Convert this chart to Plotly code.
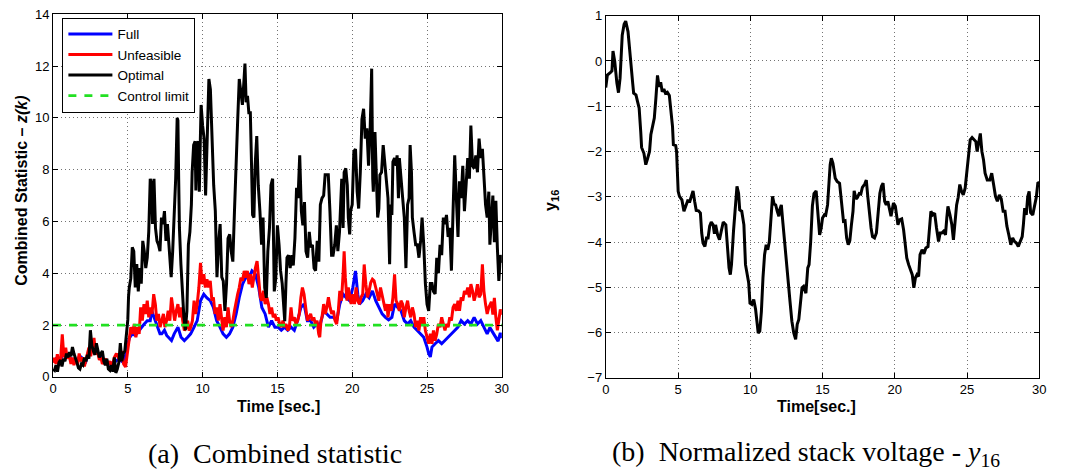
import plotly.graph_objects as go

# ---------------- data: left panel (combined statistic z(k)) ----------------
t_opt = [0.0,0.1,0.2,0.3,0.4,0.5,0.6,0.7,0.8,0.9,1.0,1.1,1.2,1.3,1.4,1.5,1.6,1.7,1.8,1.9,
         2.0,2.1,2.2,2.3,2.4,2.5,2.6,2.7,2.8,2.9,3.0,3.1,3.2,3.3,3.4,3.5,3.6,3.7,3.8,3.9,
         4.0,4.1,4.2,4.3,4.4,4.5,4.6,4.7,4.8,4.9,5.0,5.05,5.1,5.2,5.3,5.4,5.5,5.6,5.7,5.8,
         5.9,6.0,6.1,6.2,6.3,6.4,6.5,6.6,6.65,6.75,6.85,6.95,7.05,7.15,7.25,7.35,7.45,7.55,
         7.65,7.75,7.9,8.0,8.1,8.2,8.3,8.35,8.4,8.45,8.55,8.65,8.75,8.85,8.95,9.05,9.15,9.25,
         9.3,9.4,9.5,9.55,9.6,9.7,9.78,9.85,9.9,10.0,10.1,10.2,10.3,10.42,10.52,10.64,10.74,
         10.85,10.96,11.06,11.17,11.28,11.38,11.49,11.6,11.7,11.81,11.91,12.02,12.13,12.23,
         12.34,12.45,12.55,12.66,12.77,12.83,12.91,13.0,13.09,13.19,13.26,13.34,13.43,13.51,
         13.62,13.72,13.83,13.94,14.04,14.15,14.26,14.36,14.47,14.57,14.68,14.79,14.89,15.0,
         15.11,15.21,15.32,15.43,15.49,15.57,15.64,15.74,15.85,15.96,16.06,16.17,16.28,16.38,
         16.49,16.6,16.7,16.81,16.91,17.02,17.13,17.23,17.34,17.45,17.55,17.66,17.77,17.87,
         17.98,18.09,18.19,18.3,18.4,18.51,18.62,18.72,18.83,18.94,19.04,19.15,19.24,19.3,
         19.39,19.46,19.57,19.67,19.74,19.83,19.89,20.0,20.11,20.22,20.33,20.43,20.54,20.65,
         20.76,20.87,20.98,21.09,21.2,21.3,21.37,21.41,21.52,21.63,21.7,21.78,21.85,21.96,
         22.07,22.17,22.28,22.39,22.5,22.57,22.65,22.72,22.83,22.93,23.0,23.09,23.15,23.26,
         23.37,23.48,23.59,23.7,23.8,23.87,23.96,24.02,24.13,24.24,24.35,24.46,24.57,24.67,
         24.78,24.89,25.0,25.11,25.22,25.33,25.43,25.54,25.65,25.76,25.87,25.98,26.09,26.2,
         26.3,26.41,26.52,26.63,26.74,26.85,26.96,27.07,27.17,27.28,27.39,27.5,27.61,27.72,
         27.83,27.93,28.04,28.15,28.26,28.37,28.48,28.59,28.7,28.8,28.91,29.02,29.13,29.2,
         29.3,29.4,29.5,29.6,29.7,29.8,29.9,30.0]
z_opt = [0.3,0.25,0.45,0.2,0.55,0.65,0.4,0.7,0.6,0.9,0.75,0.95,0.8,1.15,0.9,0.75,0.55,0.35,0.3,0.5,
         0.45,0.75,0.6,0.85,0.7,1.8,1.2,1.0,0.85,1.3,1.0,0.75,0.9,1.0,0.6,0.45,0.7,0.3,0.25,0.45,
         0.2,0.75,0.15,0.3,0.55,1.3,0.6,0.9,1.0,1.6,2.2,3.1,3.45,3.8,5.0,4.85,3.45,4.35,3.3,4.2,
         3.6,5.25,4.85,4.2,4.6,5.6,7.65,7.4,5.9,7.65,5.75,5.25,5.1,4.85,6.15,5.9,6.4,5.25,
         5.9,5.1,3.85,4.85,6.15,7.65,10.0,9.9,7.65,5.75,4.35,3.2,2.3,1.8,2.55,5.1,5.6,6.65,
         7.9,8.95,9.1,7.2,8.9,9.1,7.15,9.2,10.5,9.7,9.2,7.0,8.7,11.5,11.1,8.95,7.4,
         6.4,3.85,5.1,5.9,3.85,3.7,2.55,3.6,5.35,5.5,4.85,4.45,6.4,8.3,
         9.85,11.5,11.0,10.5,11.5,12.1,10.6,10.85,10.2,10.2,8.45,6.25,6.15,8.15,
         9.3,7.4,6.4,5.1,6.15,3.45,3.05,4.85,5.75,7.4,7.65,3.3,3.8,5.85,
         5.1,4.1,3.6,2.55,2.15,3.6,4.6,4.7,4.2,4.7,4.3,5.35,7.3,6.9,
         8.55,6.4,5.85,6.75,4.85,4.6,5.6,5.0,5.1,4.2,4.1,5.25,4.45,6.65,
         6.9,7.0,7.8,7.8,7.8,6.4,4.7,4.7,5.1,5.85,4.85,5.6,6.65,7.65,
         5.75,7.9,8.05,7.4,6.15,5.5,6.4,6.65,8.7,8.8,7.15,6.5,7.9,9.95,
         10.35,9.2,9.6,8.15,9.6,11.9,7.65,7.15,9.45,7.65,6.15,6.5,7.8,7.9,
         8.95,8.3,7.65,6.9,4.35,6.65,6.25,8.3,8.45,8.15,8.55,6.9,8.45,7.65,
         6.65,6.15,4.2,6.65,6.9,8.95,7.9,6.15,5.6,5.1,5.1,4.6,5.25,6.15,
         5.1,3.6,2.8,2.55,3.6,3.6,3.3,3.2,4.6,4.0,5.1,4.7,6.15,5.9,
         6.25,5.4,5.75,4.1,6.4,8.55,6.9,5.4,7.55,6.9,8.15,6.4,7.4,8.45,
         7.65,9.7,8.15,8.05,8.55,7.9,9.2,8.45,8.8,7.55,6.65,6.15,7.15,5.1,
         6.3,7.0,5.2,6.8,5.0,3.7,4.7,4.4]

t_unf = [0.0,0.07,0.2,0.29,0.4,0.5,0.62,0.73,0.85,0.95,1.07,1.2,1.3,1.4,1.52,1.65,1.75,1.85,1.97,
         2.1,2.2,2.3,2.4,2.52,2.74,2.85,2.96,3.1,3.2,3.3,3.4,3.55,3.65,3.8,3.95,4.1,4.24,4.46,
         4.6,4.72,4.85,5.0,5.1,5.2,5.32,5.43,5.54,5.65,5.76,5.86,5.97,6.08,6.19,6.3,6.4,6.51,
         6.62,6.73,6.84,6.94,7.05,7.16,7.27,7.38,7.48,7.59,7.7,7.81,7.92,8.02,8.13,8.24,8.35,
         8.46,8.56,8.67,8.78,8.89,9.0,9.1,9.21,9.32,9.43,9.53,9.64,9.75,9.86,9.97,10.08,10.18,
         10.29,10.4,10.51,10.62,10.72,10.83,10.94,11.05,11.16,11.26,11.37,11.48,11.59,11.7,
         11.8,11.91,12.02,12.13,12.24,12.34,12.45,12.56,12.67,12.78,12.88,12.99,13.1,13.21,
         13.32,13.42,13.53,13.64,13.75,13.86,13.96,14.07,14.18,14.29,14.4,14.5,14.61,14.72,
         14.83,14.93,15.04,15.15,15.26,15.37,15.48,15.58,15.69,15.8,15.91,16.0,16.13,16.24,
         16.35,16.46,16.57,16.67,16.78,16.89,17.0,17.11,17.22,17.33,17.43,17.54,17.65,17.76,
         17.83,17.91,17.98,18.09,18.2,18.3,18.41,18.52,18.63,18.74,18.85,18.96,19.07,19.17,
         19.28,19.39,19.46,19.54,19.65,19.74,19.83,19.93,20.04,20.15,20.26,20.37,20.48,20.59,
         20.7,20.8,20.91,21.02,21.13,21.24,21.35,21.46,21.57,21.67,21.78,21.89,22.0,22.11,
         22.22,22.33,22.39,22.5,22.61,22.72,22.83,22.93,23.04,23.15,23.26,23.37,23.48,23.59,
         23.7,23.8,23.91,24.02,24.13,24.24,24.35,24.46,24.57,24.67,24.78,24.89,25.0,25.11,
         25.22,25.33,25.43,25.54,25.65,25.76,25.87,25.98,26.09,26.2,26.3,26.41,26.52,26.63,
         26.74,26.85,26.96,27.07,27.17,27.28,27.39,27.5,27.61,27.72,27.83,27.93,28.04,28.15,
         28.26,28.37,28.48,28.59,28.7,28.8,28.91,29.02,29.13,29.3,29.4,29.5,29.6,29.7,29.8,
         29.9,30.0]
z_unf = [0.55,0.74,0.5,0.87,0.45,0.6,1.64,0.75,1.13,0.7,0.87,0.5,0.75,0.45,0.7,0.5,0.9,0.6,0.75,
         0.4,0.65,0.9,1.13,0.8,1.5,0.87,1.0,0.65,0.75,0.5,0.6,0.7,0.45,0.6,0.4,0.75,0.9,0.64,
         1.0,0.5,0.38,1.15,1.53,1.92,1.66,2.04,1.53,1.92,1.66,2.68,2.17,2.81,2.43,2.94,2.3,2.68,
         2.43,3.19,2.81,2.17,2.43,1.92,2.17,2.43,1.92,2.17,2.55,2.17,3.07,2.68,2.17,2.55,2.81,
         2.3,2.68,2.17,1.79,1.92,2.17,1.79,1.92,2.17,2.94,2.43,2.81,3.45,4.4,3.58,3.96,3.45,
         3.77,3.45,3.71,2.94,3.07,2.43,2.68,2.17,2.81,2.3,1.79,2.3,1.92,2.68,
         2.17,1.92,2.17,2.55,2.94,3.19,3.45,3.83,3.71,4.09,3.83,4.09,3.58,3.96,
         3.45,3.83,4.21,4.47,3.71,3.07,2.94,3.32,2.81,3.07,2.81,2.43,2.68,2.3,
         2.43,2.17,2.3,2.04,1.92,2.17,1.92,2.04,1.79,1.92,2.68,2.17,2.3,2.04,
         2.17,2.43,3.07,3.45,3.19,2.68,2.17,2.3,2.43,2.17,2.3,2.04,2.17,1.66,
         1.53,2.17,2.3,2.81,2.43,2.68,3.07,2.68,2.43,2.55,2.17,2.04,2.55,3.32,
         2.94,3.96,4.85,3.83,2.94,3.45,3.07,2.81,3.19,2.81,3.45,2.94,2.81,3.07,
         3.19,4.34,3.58,3.07,3.32,3.64,3.77,3.71,3.45,3.19,2.94,3.45,3.19,2.81,
         2.55,2.81,2.3,2.81,2.55,3.07,3.96,2.94,2.81,2.55,2.94,2.81,2.3,2.68,
         2.94,2.55,2.3,2.68,2.43,1.92,2.17,1.79,2.3,2.04,2.3,1.79,1.53,1.28,
         1.66,1.28,1.79,1.4,1.66,2.04,1.92,2.3,2.04,1.79,2.04,1.92,2.3,2.17,
         2.68,2.81,2.55,2.94,2.55,3.07,2.94,3.32,3.19,3.45,3.07,3.58,3.32,2.94,
         3.19,3.58,3.07,3.19,4.34,3.32,2.81,2.43,2.68,2.9,2.4,3.05,2.3,1.8,2.2,
         2.6,2.4]

t_full = [0.0,0.2,0.4,0.6,0.8,1.0,1.2,1.4,1.6,1.8,2.0,2.2,2.4,2.6,2.8,3.0,3.2,3.4,3.6,3.8,4.0,
          4.2,4.4,4.6,4.8,5.0,5.1,5.3,5.5,5.7,5.9,6.1,6.3,6.5,6.6,6.75,6.95,7.15,7.27,7.45,7.6,
          7.7,7.92,8.1,8.35,8.56,8.78,9.0,9.2,9.43,9.64,9.86,10.08,10.29,10.51,10.72,10.94,
          11.16,11.37,11.59,11.8,12.02,12.24,12.45,12.67,12.88,13.1,13.3,13.53,13.75,13.96,
          14.18,14.4,14.61,14.83,15.04,15.26,15.48,15.69,15.91,16.13,16.35,16.57,16.78,17.0,
          17.22,17.43,17.65,17.87,18.09,18.3,18.52,18.74,18.96,19.17,19.39,19.61,19.83,20.04,
          20.22,20.37,20.48,20.7,20.91,21.13,21.35,21.57,21.78,22.0,22.22,22.43,22.65,22.83,
          23.04,23.26,23.48,23.7,23.91,24.13,24.35,24.57,24.78,25.0,25.11,25.22,25.33,25.54,
          25.76,25.98,26.2,26.41,26.63,26.85,27.07,27.28,27.5,27.72,27.93,28.15,28.37,28.59,
          28.8,29.02,29.2,29.4,29.6,29.75,29.9,30.0]
z_full = [0.6,0.7,0.55,0.8,0.9,0.85,0.7,0.6,0.65,0.8,0.7,0.6,1.0,1.1,1.0,0.9,0.8,0.65,0.6,0.5,0.55,
          0.6,0.7,0.6,0.7,1.2,1.5,1.66,1.6,1.75,1.92,2.04,2.17,2.17,2.55,2.3,1.92,1.66,1.66,1.8,1.6,
          1.53,1.4,1.66,1.92,1.53,1.4,1.53,1.66,1.92,2.17,2.94,3.19,3.05,2.94,2.68,2.17,
          1.92,1.66,1.53,1.66,1.92,2.43,3.07,3.58,3.83,3.83,4.09,3.96,3.45,2.68,
          2.43,1.92,2.17,1.92,1.92,1.8,1.92,1.8,1.92,1.8,2.17,2.68,2.81,2.17,
          2.17,1.92,2.04,2.04,2.55,2.43,2.3,2.3,2.17,2.81,3.19,3.05,2.94,3.45,
          4.09,3.19,2.81,2.94,3.19,3.05,3.32,2.94,2.68,2.43,2.3,2.2,2.3,2.81,
          2.68,2.55,2.17,2.04,2.17,1.92,1.79,1.66,1.53,1.15,0.9,0.77,1.15,1.28,
          1.4,1.28,1.4,1.53,1.66,1.79,1.92,2.17,2.04,2.17,2.04,2.3,2.04,2.17,
          1.92,1.66,1.9,1.7,1.5,1.38,1.7,1.5]

control_limit = 2.0
time_span = [0, 30]

# ---------------- data: right panel (normalized stack voltage y16) ----------------
t_y16 = [0.0,0.11,0.33,0.43,0.5,0.62,0.77,0.88,0.99,1.14,1.27,1.38,1.54,1.71,1.87,1.93,2.09,2.2,
         2.31,2.42,2.48,2.64,2.77,2.9,3.03,3.12,3.25,3.36,3.47,3.58,3.69,3.8,3.91,4.02,4.13,4.26,
         4.4,4.51,4.62,4.68,4.84,4.9,5.01,5.1,5.27,5.41,5.54,5.67,5.82,5.93,6.04,6.15,6.26,6.42,
         6.55,6.64,6.73,6.86,6.97,7.08,7.19,7.3,7.43,7.52,7.6,7.74,7.87,8.0,8.13,8.31,8.42,8.53,
         8.62,8.7,8.84,8.97,9.08,9.19,9.27,9.41,9.56,9.67,9.8,9.89,9.98,10.11,10.24,10.37,10.46,
         10.55,10.66,10.77,10.88,10.99,11.1,11.21,11.32,11.43,11.54,11.65,11.76,11.87,11.98,
         12.04,12.15,12.26,12.42,12.57,12.75,12.88,13.01,13.14,13.25,13.36,13.45,13.58,13.69,
         13.85,13.98,14.07,14.18,14.3,14.41,14.56,14.69,14.8,14.91,15.0,15.13,15.22,15.35,15.44,
         15.53,15.61,15.72,15.88,16.01,16.18,16.34,16.45,16.56,16.67,16.78,16.89,17.0,17.11,
         17.19,17.32,17.41,17.54,17.65,17.76,17.92,18.03,18.14,18.25,18.36,18.46,18.6,18.73,
         18.86,18.97,19.08,19.19,19.3,19.41,19.52,19.61,19.74,19.82,19.91,20.04,20.13,20.22,
         20.33,20.48,20.61,20.72,20.83,20.96,21.1,21.21,21.32,21.43,21.54,21.65,21.75,21.89,
         22.02,22.15,22.3,22.41,22.5,22.63,22.76,22.89,23.03,23.14,23.25,23.38,23.51,23.6,
         23.68,23.82,23.95,24.06,24.17,24.28,24.39,24.5,24.61,24.74,24.87,25.0,25.11,25.22,
         25.35,25.48,25.61,25.7,25.81,25.92,26.03,26.14,26.25,26.4,26.58,26.71,26.84,26.97,
         27.1,27.24,27.37,27.5,27.63,27.76,27.89,28.03,28.16,28.29,28.42,28.55,28.68,28.82,
         28.9,28.99,29.1,29.2,29.3,29.4,29.55,29.7,29.8,29.9,30.0]
y16 = [-0.59,-0.31,-0.25,-0.22,0.22,-0.01,-0.49,-0.70,-0.38,0.57,0.81,0.88,0.65,0.13,-0.51,-0.71,
       -0.75,-0.90,-1.04,-1.56,-1.91,-2.04,-2.29,-2.15,-2.0,-1.63,-1.45,-1.26,-0.82,-0.32,-0.57,
       -0.47,-0.68,-0.62,-0.71,-0.69,-0.76,-1.12,-1.45,-1.85,-1.87,-2.0,-2.88,-2.99,-3.07,-3.32,
       -3.21,-3.09,-3.10,-2.99,-2.87,-3.10,-3.30,-3.31,-3.36,-3.80,-4.02,-4.10,-3.91,-3.91,-3.65,
       -3.56,-3.62,-3.82,-3.62,-3.84,-3.95,-3.75,-3.56,-3.62,-4.06,-4.57,-4.72,-4.50,-3.76,-3.25,
       -2.77,-2.92,-3.29,-3.32,-3.62,-4.50,-4.76,-4.90,-5.35,-5.38,-5.27,-5.49,-5.75,-6.01,-5.97,
       -5.53,-4.79,-4.28,-4.06,-4.17,-3.99,-3.40,-2.99,-3.16,-3.18,-3.32,-3.43,-3.29,-3.18,-3.58,
       -4.21,-4.79,-5.31,-5.75,-6.01,-6.15,-5.82,-5.71,-5.38,-5.01,-4.98,-5.13,-4.57,-4.50,-4.0,
       -3.2,-2.93,-2.87,-3.40,-3.84,-3.69,-3.47,-3.40,-3.41,-3.18,-2.73,-2.29,-2.15,-2.26,-2.59,
       -2.66,-2.70,-3.21,-3.54,-3.53,-3.91,-4.06,-3.97,-3.62,-3.32,-2.87,-3.05,-3.02,-2.93,-2.94,
       -2.79,-2.72,-2.63,-3.02,-3.40,-3.69,-3.88,-3.91,-3.80,-3.32,-2.92,-2.77,-2.70,-3.10,-3.18,
       -3.10,-3.21,-3.43,-3.29,-3.14,-3.21,-3.47,-3.62,-3.51,-3.49,-3.73,-4.06,-4.35,-4.50,-4.61,
       -4.72,-5.01,-4.79,-4.72,-4.76,-4.28,-4.17,-4.26,-4.13,-4.10,-3.62,-3.32,-3.40,-3.36,-3.69,
       -3.99,-3.80,-3.80,-3.76,-3.84,-3.47,-3.21,-3.40,-3.62,-3.95,-3.62,-3.18,-3.01,-2.73,-2.87,
       -2.96,-2.81,-2.44,-2.07,-1.74,-1.69,-1.74,-1.78,-2.0,-1.78,-1.60,-2.0,-2.18,-2.48,-2.63,
       -2.63,-2.48,-2.73,-2.99,-3.10,-2.96,-3.05,-3.32,-3.32,-3.65,-3.84,-4.06,-3.91,-3.99,-4.02,
       -4.10,-3.99,-3.88,-3.62,-3.25,-3.4,-3.0,-2.88,-3.35,-3.4,-3.2,-3.0,-2.7,-2.68]

left_yticks = [0, 2, 4, 6, 8, 10, 12, 14]
right_yticks = [-7, -6, -5, -4, -3, -2, -1, 0, 1]
xticks = [0, 5, 10, 15, 20, 25, 30]

# ---------------- figure ----------------
W, H = 1072, 472
fig = go.Figure()

lw = 3
fig.add_trace(go.Scatter(x=t_full, y=z_full, mode="lines", name="Full",
                         line=dict(color="#0000ff", width=lw), xaxis="x", yaxis="y"))
fig.add_trace(go.Scatter(x=t_unf, y=z_unf, mode="lines", name="Unfeasible",
                         line=dict(color="#ff0000", width=lw), xaxis="x", yaxis="y"))
fig.add_trace(go.Scatter(x=t_opt, y=z_opt, mode="lines", name="Optimal",
                         line=dict(color="#000000", width=lw), xaxis="x", yaxis="y"))
fig.add_trace(go.Scatter(x=time_span, y=[control_limit, control_limit], mode="lines",
                         name="Control limit",
                         line=dict(color="#22e022", width=2.8, dash="8px,8px"),
                         xaxis="x", yaxis="y"))
fig.add_trace(go.Scatter(x=t_y16, y=y16, mode="lines", showlegend=False,
                         line=dict(color="#000000", width=3), xaxis="x2", yaxis="y2"))

tickfont = dict(family="Liberation Sans, Arial, sans-serif", size=13, color="#000")
common_axis = dict(showline=True, linecolor="#000", linewidth=1, mirror="ticks",
                   ticks="inside", ticklen=5, tickcolor="#000", showgrid=True,
                   gridcolor="rgba(0,0,0,0.55)", gridwidth=1, griddash="1px,3px",
                   zeroline=False, tickfont=tickfont)

def px_x(p):
    return p / W

def px_y(p):
    return 1 - p / H

fig.update_layout(
    width=W, height=H,
    margin=dict(l=0, r=0, t=0, b=0),
    paper_bgcolor="white", plot_bgcolor="white",
    xaxis=dict(domain=[px_x(49.5), px_x(503)], range=[0, 30], tickvals=xticks,
               anchor="y", **common_axis),
    yaxis=dict(domain=[px_y(382), px_y(7.5)], range=[0, 14], tickvals=left_yticks,
               anchor="x", **common_axis),
    xaxis2=dict(domain=[px_x(608), px_x(1046)], range=[0, 30], tickvals=xticks,
                anchor="y2", **common_axis),
    yaxis2=dict(domain=[px_y(383), px_y(9)], range=[-7, 1], tickvals=right_yticks,
                anchor="x2", **common_axis),
    legend=dict(x=px_x(59), y=px_y(11), xanchor="left", yanchor="top",
                bgcolor="white", bordercolor="#000", borderwidth=1,
                font=dict(family="Liberation Sans, Arial, sans-serif", size=13.5, color="#000"),
                tracegroupgap=0, itemwidth=44),
    showlegend=True,
)

title_font = dict(family="Liberation Sans, Arial, sans-serif", size=16, color="#000")
cap_font = dict(family="Liberation Serif, Times New Roman, serif", size=28, color="#000")
annotations = [
    dict(text="<b>Combined Statistic \u2013 <i>z(k)</i></b>", x=px_x(18), y=px_y(190),
         textangle=-90, font=title_font),
    dict(text="<b>Time [sec.]</b>", x=px_x(277), y=px_y(413), font=title_font),
    dict(text="<b>y<sub>16</sub></b>", x=px_x(553), y=px_y(200), textangle=-90, font=title_font),
    dict(text="<b>Time[sec.]</b>", x=px_x(821), y=px_y(413), font=title_font),
    dict(text="(a)  Combined statistic", x=px_x(274), y=px_y(461), font=cap_font),
    dict(text="(b)  Normalized stack voltage - <i>y</i><sub>16</sub>", x=px_x(612), y=px_y(461),
         xanchor="left", font=cap_font),
]
for a in annotations:
    a.update(xref="paper", yref="paper", showarrow=False)
    a.setdefault("xanchor", "center")
    a.setdefault("yanchor", "middle")
fig.update_layout(annotations=annotations)

fig.write_html("out.html",
               config={"displayModeBar": False, "responsive": False},
               post_script="document.documentElement.style.margin='0';"
                           "document.body.style.margin='0';"
                           "document.body.style.overflow='hidden';")
